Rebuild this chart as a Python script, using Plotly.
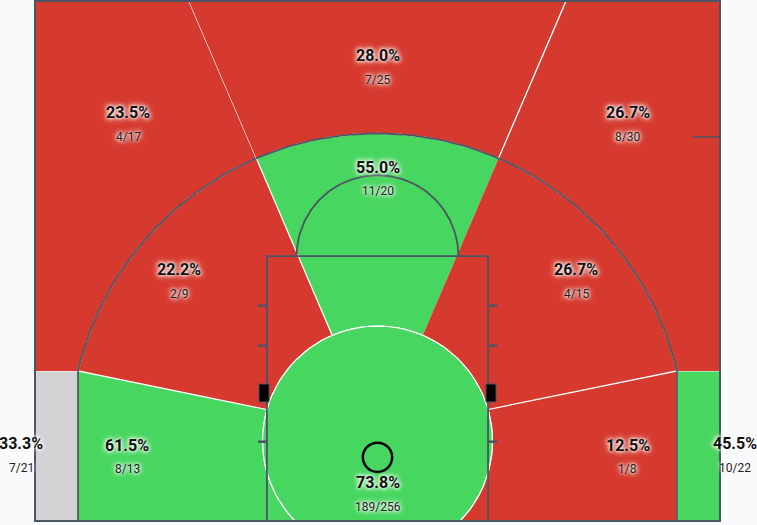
import numpy as np
import plotly.graph_objects as go

# Shot zones (order is used for every list below)
zones = ['Left Corner 3', 'Right Corner 3', 'Left Baseline Mid', 'Right Baseline Mid',
         'Left Wing Mid', 'Center Mid', 'Right Wing Mid',
         'Left Wing 3', 'Top 3', 'Right Wing 3', 'Paint']
makes = [7, 10, 8, 1, 2, 11, 4, 4, 7, 8, 189]
attempts = [21, 22, 13, 8, 9, 20, 15, 17, 25, 30, 256]
rating = ['avg', 'hot', 'hot', 'cold', 'cold', 'hot', 'cold', 'cold', 'cold', 'cold', 'hot']

# where each zone's label sits (feet, basket at origin)
label_x = [-26.02, 26.09, -18.28, 18.28, -14.49, 0, 14.49, -18.21, 0, 18.28, 0]
label_y = [-1.09, -1.09, -1.20, -1.20, 11.61, 19.12, 11.61, 23.07, 27.26, 23.07, -3.94]

colors = {'hot': '#47d65f', 'cold': '#d63a2e', 'avg': '#d3d3d5'}
line_col = '#4b5563'

# court geometry in feet
X_SIDE = 25
Y_BASE = -5.84
Y_TOP = 32.12
R_CIRC = 8.39
R_3PT = 22.45
X_CORNER = 21.86
Y_JOIN = np.sqrt(R_3PT**2 - X_CORNER**2)
LANE = 8.07
FT_Y = 13.5
FT_R = 5.9
SPLIT = 23.2
PX_PER_FT = 13.7


def arc(r, a0, a1, n=80, cx=0.0, cy=0.0):
    t = np.radians(np.linspace(a0, a1, n))
    return cx + r * np.cos(t), cy + r * np.sin(t)


def poly(*parts):
    xs = np.concatenate([np.atleast_1d(np.asarray(p[0], dtype=float)) for p in parts])
    ys = np.concatenate([np.atleast_1d(np.asarray(p[1], dtype=float)) for p in parts])
    return xs, ys


def mirror(p):
    return -np.asarray(p[0], dtype=float), np.asarray(p[1], dtype=float)


a_l = 90 + SPLIT
a_r = 90 - SPLIT
a_join = np.degrees(np.arctan2(Y_JOIN, -X_CORNER))
p_y = np.sqrt(R_CIRC**2 - LANE**2)
a_p = np.degrees(np.arctan2(p_y, -LANE))
a_bot = np.degrees(np.arcsin(Y_BASE / R_CIRC))
x_top = Y_TOP / np.tan(np.radians(a_l))

left_corner = poly(([-X_SIDE, -X_SIDE, -X_CORNER, -X_CORNER], [Y_BASE, Y_JOIN, Y_JOIN, Y_BASE]))
left_base = poly(([-X_CORNER, -X_CORNER], [Y_JOIN, Y_BASE]), arc(R_CIRC, 180 - a_bot, a_p))
left_wing = poly(arc(R_CIRC, a_l, a_p), ([-X_CORNER], [Y_JOIN]), arc(R_3PT, a_join, a_l))
center_mid = poly(arc(R_CIRC, a_r, a_l), arc(R_3PT, a_l, a_r))
left_three = poly(([-X_SIDE, -X_SIDE, x_top], [Y_JOIN, Y_TOP, Y_TOP]), arc(R_3PT, a_l, a_join))
top_three = poly(([x_top, -x_top], [Y_TOP, Y_TOP]), arc(R_3PT, a_r, a_l))
paint = poly(arc(R_CIRC, a_bot, 180 - a_bot))

shapes_xy = [left_corner, mirror(left_corner), left_base, mirror(left_base),
             left_wing, center_mid, mirror(left_wing),
             left_three, top_three, mirror(left_three), paint]

fig = go.Figure()

for (xs, ys), r in zip(shapes_xy, rating):
    fig.add_trace(go.Scatter(x=xs, y=ys, fill='toself', fillcolor=colors[r], mode='lines',
                             line=dict(color='white', width=1.2), hoverinfo='skip'))

# three point line and free throw circle
ax, ay = arc(R_3PT, 180 - a_join, a_join)
fig.add_trace(go.Scatter(x=np.concatenate([[X_CORNER, X_CORNER], ax, [-X_CORNER, -X_CORNER]]),
                         y=np.concatenate([[Y_BASE, Y_JOIN], ay, [Y_JOIN, Y_BASE]]),
                         mode='lines', line=dict(color=line_col, width=1.8), hoverinfo='skip'))
fx, fy = arc(FT_R, 0, 180, cy=FT_Y)
fig.add_trace(go.Scatter(x=fx, y=fy, mode='lines', line=dict(color=line_col, width=1.8),
                         hoverinfo='skip'))

# court outline, lane, hashes, blocks, rim
fig.add_shape(type='rect', x0=-X_SIDE, x1=X_SIDE, y0=Y_BASE, y1=Y_TOP,
              line=dict(color=line_col, width=2))
fig.add_shape(type='rect', x0=-LANE, x1=LANE, y0=Y_BASE, y1=FT_Y,
              line=dict(color=line_col, width=1.8))
for hy in [9.88, 6.96, -0.05]:
    fig.add_shape(type='line', x0=-LANE - 0.65, x1=-LANE, y0=hy, y1=hy, line=dict(color=line_col, width=2.5))
    fig.add_shape(type='line', x0=LANE, x1=LANE + 0.65, y0=hy, y1=hy, line=dict(color=line_col, width=2.5))
for sx in [-1, 1]:
    fig.add_shape(type='rect', x0=sx * 7.92, x1=sx * 8.65, y0=2.85, y1=4.16,
                  fillcolor='black', line=dict(color=line_col, width=1))
fig.add_shape(type='line', x0=22.96, x1=X_SIDE, y0=22.19, y1=22.19, line=dict(color=line_col, width=1.5))
fig.add_shape(type='circle', x0=-1.07, x1=1.07, y0=-1.19 - 1.07, y1=-1.19 + 1.07,
              line=dict(color='black', width=2.5))

# labels (corner labels sit outside the court, so anchor on the sideline and shift)
glow = '0px 0px 3px white, 0px 0px 5px white, 0px 0px 7px white'
for lx, ly, m, a in zip(label_x, label_y, makes, attempts):
    ax_x = float(np.clip(lx, -X_SIDE, X_SIDE))
    dx = (lx - ax_x) * PX_PER_FT
    fig.add_annotation(x=ax_x, y=ly, text=f'{m / a * 100:.1f}%', showarrow=False,
                       xshift=dx, yshift=12,
                       font=dict(family='Roboto', size=16, color='#111111', weight='bold', shadow=glow))
    fig.add_annotation(x=ax_x, y=ly, text=f'{m}/{a}', showarrow=False,
                       xshift=dx, yshift=-12,
                       font=dict(family='Roboto', size=12, color='#222222', shadow=glow))

fig.update_layout(
    width=757, height=525,
    margin=dict(l=33, r=35, t=0, b=2),
    paper_bgcolor='#f9fafb', plot_bgcolor='#f9fafb',
    showlegend=False,
    xaxis=dict(range=[-25.146, 25.146], visible=False, fixedrange=True),
    yaxis=dict(range=[-5.985, 32.19], visible=False, fixedrange=True),
)

fig.write_html('out.html', config={'displayModeBar': False},
               post_script="document.body.style.margin='0';")
